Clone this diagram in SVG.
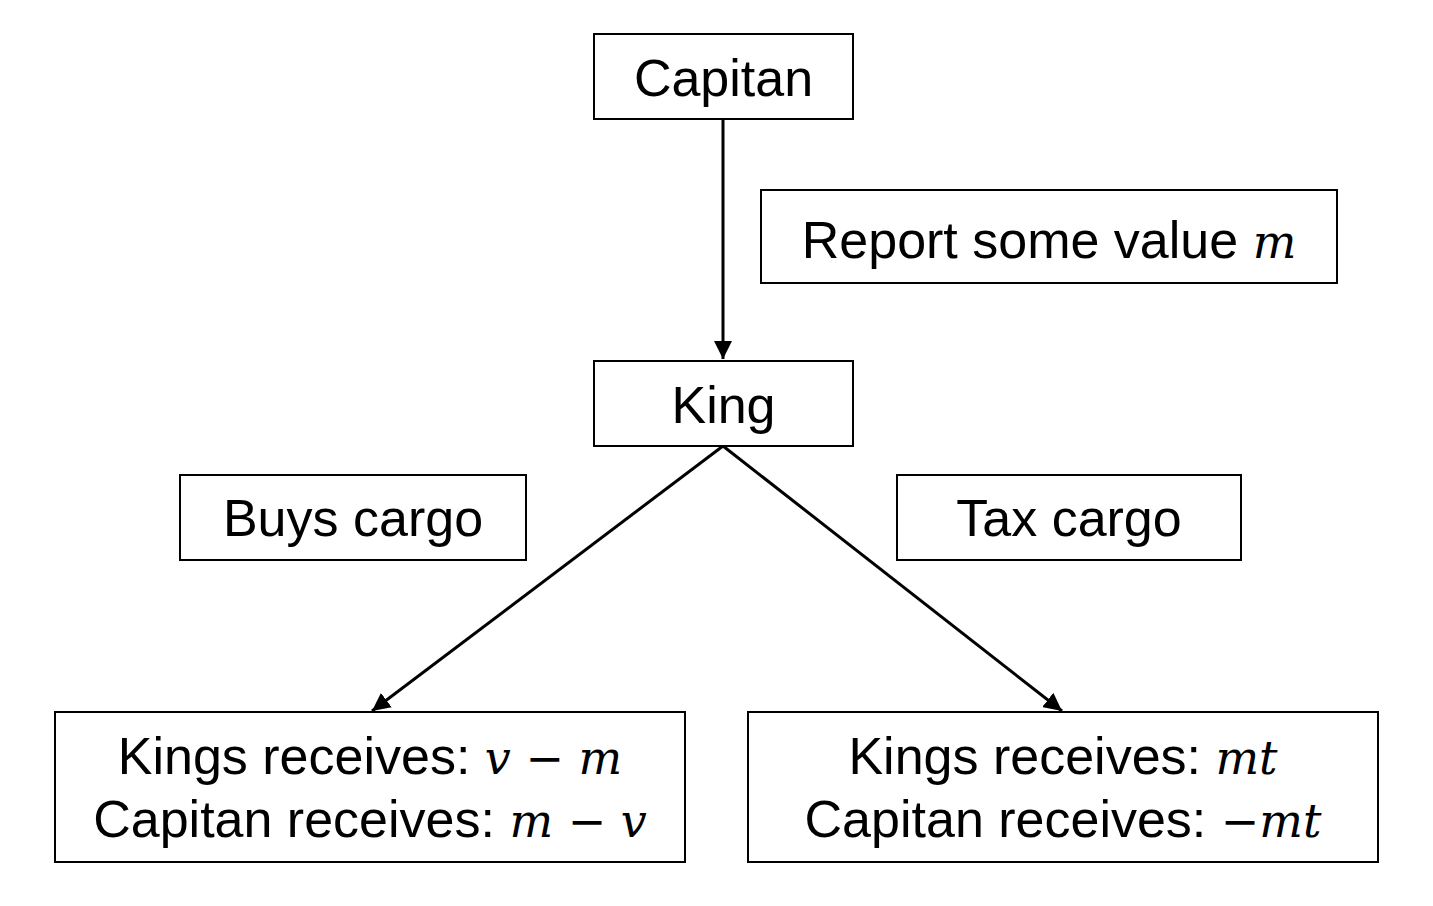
<svg xmlns="http://www.w3.org/2000/svg" width="1433" height="906" viewBox="0 0 1433 906">
<defs>
<style>
.box{fill:#fff;stroke:#000;stroke-width:2}
.t{font-family:"Liberation Sans",Arial,sans-serif;font-size:52px;fill:#000;text-anchor:middle}
.m{font-family:"DejaVu Serif","Liberation Serif",serif;font-style:italic;font-size:46px}
.op{font-family:"DejaVu Sans","Liberation Sans",sans-serif;font-style:normal;font-size:46px}
.c{stroke:#000;stroke-width:3;fill:none}
</style>
<marker id="ah" viewBox="0 0 10 10" refX="10" refY="5" markerWidth="6" markerHeight="6" markerUnits="strokeWidth" orient="auto">
<path d="M0,0 L10,5 L0,10 z" fill="#000"/>
</marker>
</defs>
<rect width="1433" height="906" fill="#fff"/>
<g id="connectors">
<line class="c" x1="723" y1="119" x2="723" y2="359" marker-end="url(#ah)"/>
<line class="c" x1="723" y1="446" x2="372" y2="711" marker-end="url(#ah)"/>
<line class="c" x1="723" y1="446" x2="1062" y2="711" marker-end="url(#ah)"/>
</g>
<g id="capitan">
<rect class="box" x="594" y="34" width="259" height="85"/>
<text class="t" x="723.500" y="96">Capitan</text>
</g>
<g id="report">
<rect class="box" x="761" y="190" width="576" height="93"/>
<text class="t" x="1049" y="258">Report some value <tspan class="m">m</tspan></text>
</g>
<g id="king">
<rect class="box" x="594" y="361" width="259" height="85"/>
<text class="t" x="723.500" y="423">King</text>
</g>
<g id="buys">
<rect class="box" x="180" y="475" width="346" height="85"/>
<text class="t" x="353" y="536">Buys cargo</text>
</g>
<g id="tax">
<rect class="box" x="897" y="475" width="344" height="85"/>
<text class="t" x="1069" y="536">Tax cargo</text>
</g>
<g id="left">
<rect class="box" x="55" y="712" width="630" height="150"/>
<text class="t" x="370" y="774">Kings receives: <tspan class="m">v</tspan><tspan class="op"> − </tspan><tspan class="m">m</tspan></text>
<text class="t" x="370" y="837">Capitan receives: <tspan class="m">m</tspan><tspan class="op"> − </tspan><tspan class="m">v</tspan></text>
</g>
<g id="right">
<rect class="box" x="748" y="712" width="630" height="150"/>
<text class="t" x="1063" y="774">Kings receives: <tspan class="m">mt</tspan></text>
<text class="t" x="1063" y="837">Capitan receives: <tspan class="op">−</tspan><tspan class="m">mt</tspan></text>
</g>
</svg>
